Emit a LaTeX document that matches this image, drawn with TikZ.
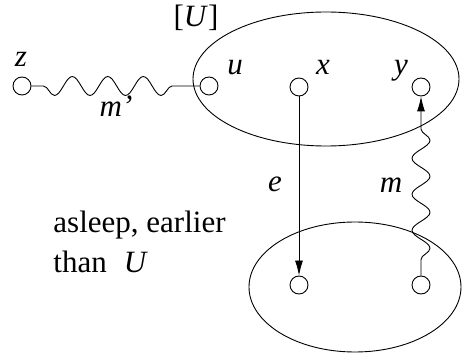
\documentclass[tikz,border=0pt]{standalone}
\usepackage{fontspec}
\setmainfont{Liberation Serif}
\usetikzlibrary{shapes.geometric,arrows.meta,decorations.pathmorphing}
\begin{document}
\begin{tikzpicture}[x=1pt,y=1pt,
  every node/.style={font=\fontsize{31}{40}\selectfont},
  pt/.style={circle,draw,line width=0.9pt,minimum size=18pt,inner sep=0pt},
  region/.style={ellipse,draw,line width=0.9pt,inner sep=0pt},
  lbl/.style={anchor=base,inner sep=0pt},
  tip/.style={-{Latex[length=15pt,width=8pt]}},
  wavy/.style={decorate,decoration={snake,amplitude=#1,segment length=35.5pt,mirror}},
  line width=0.9pt]
\useasboundingbox (0,0) rectangle (462,353);
% regions
\node[region,minimum width=266pt,minimum height=134pt] (R1) at (326,274) {};
\node[region,minimum width=212pt,minimum height=130pt] (R2) at (355,66) {};
% points
\node[pt] (z) at (22,267) {};
\node[pt] (u) at (209,267) {};
\node[pt] (x) at (299,266) {};
\node[pt] (y) at (421,266) {};
\node[pt] (a) at (299,68) {};
\node[pt] (b) at (421,68) {};
% labels
\node[lbl] (lz) at (21,286) {\textit{z}};
\node[lbl] (lU) at (196,326) {[\textit{U}]};
\node[lbl] (lu) at (235,278) {\textit{u}};
\node[lbl] (lx) at (323,278) {\textit{x}};
\node[lbl] (ly) at (401,278) {\textit{y}};
\node[lbl] (lmp) at (116,236) {\textit{m'}};
\node[lbl] (le) at (275,161) {\textit{e}};
\node[lbl] (lm) at (391,160) {\textit{m}};
\node[anchor=base west,align=left,inner sep=0pt] (txt) at (53,81)
  {asleep, earlier\\than\hspace{0.55em}\textit{U}};
% connectors
\draw[tip] (x) -- (a);
\draw[wavy=9.5pt,decoration={pre length=12pt,post length=15pt}] (z) -- (u);
\draw[tip,wavy=9pt,decoration={segment length=36pt,pre length=16pt,post length=19pt}] (b) -- (y);
\end{tikzpicture}
\end{document}
